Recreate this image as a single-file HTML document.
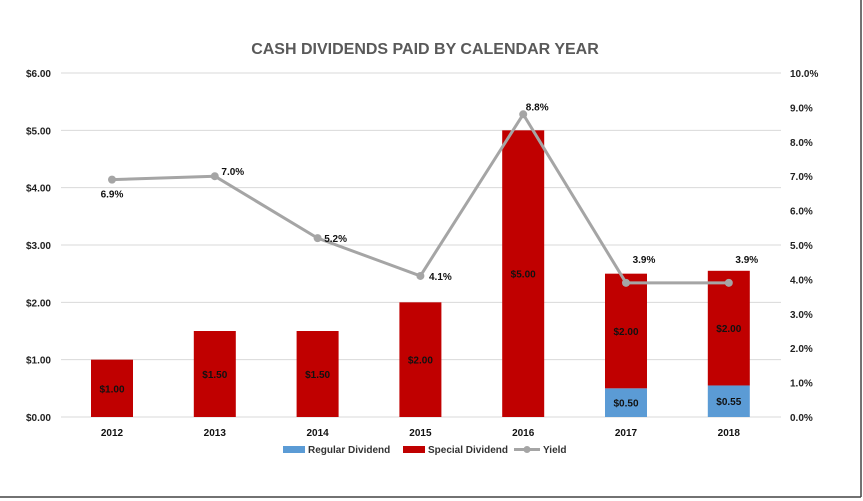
<!DOCTYPE html>
<html><head><meta charset="utf-8"><style>
body{margin:0;background:#fff;}
svg{display:block;font-family:"Liberation Sans",sans-serif;font-weight:bold;}
</style></head><body>
<svg id="c" width="863" height="501">
<line x1="861" y1="0" x2="861" y2="497" stroke="#444" stroke-width="1.5"/>
<line x1="0" y1="497" x2="861" y2="497" stroke="#444" stroke-width="1.5"/>
<text x="425" y="54" text-anchor="middle" font-size="16" fill="#595959">CASH DIVIDENDS PAID BY CALENDAR YEAR</text>
<g id="grid"></g><g id="bars"></g><g id="line"></g><g id="labels"></g>
<g font-size="10" fill="#333">
<rect x="283" y="446" width="22" height="7" fill="#5b9bd5"/>
<text x="308" y="453">Regular Dividend</text>
<rect x="403" y="446" width="22" height="7" fill="#c00000"/>
<text x="428" y="453">Special Dividend</text>
<line x1="514" y1="449.5" x2="540" y2="449.5" stroke="#a5a5a5" stroke-width="3"/>
<circle cx="527" cy="449.5" r="3.5" fill="#a5a5a5"/>
<text x="543" y="453">Yield</text>
</g>
</svg>
<script>
const years=["2012","2013","2014","2015","2016","2017","2018"];
const regular=[0,0,0,0,0,0.50,0.55];
const special=[1.00,1.50,1.50,2.00,5.00,2.00,2.00];
const yieldPct=[6.9,7.0,5.2,4.1,8.8,3.9,3.9];
const leftTicks=[0,1,2,3,4,5,6];
const rightTicks=[0,1,2,3,4,5,6,7,8,9,10];
const NS="http://www.w3.org/2000/svg";
const y0=417,yTop=73,xL=61,xR=781;
const yL=v=>y0-(v/6)*(y0-yTop);
const yR=v=>y0-(v/10)*(y0-yTop);
const xC=i=>112+i*102.8;
function mk(p,tag,a,t){const e=document.createElementNS(NS,tag);for(const k in a)e.setAttribute(k,a[k]);if(t!==undefined)e.textContent=t;p.appendChild(e);return e;}
const g=document.getElementById('grid'),b=document.getElementById('bars'),l=document.getElementById('line'),lb=document.getElementById('labels');
leftTicks.forEach(v=>{
 const ln=mk(g,'line',{x1:xL,x2:xR,y1:yL(v),y2:yL(v),stroke:'#d9d9d9','stroke-width':1});
 
 
 const t=mk(g,'text',{x:51,y:yL(v)+4,'text-anchor':'end','font-size':10,fill:'#222'},'$'+v.toFixed(2));
 
 
});
rightTicks.forEach(v=>{
 const t=mk(g,'text',{x:790,y:yR(v)+4,'font-size':10,fill:'#222'},v.toFixed(1)+'%');
 
 
});
years.forEach((yr,i)=>{
 const x=xC(i),w=42;
 if(regular[i]>0){
  const r=mk(b,'rect',{x:x-w/2,y:yL(regular[i]),width:w,height:y0-yL(regular[i]),fill:'#5b9bd5'});
  
  
  const t=mk(lb,'text',{x:x,y:(yL(regular[i])+y0)/2+4,'text-anchor':'middle','font-size':10,fill:'#111'},'$'+regular[i].toFixed(2));
  
  
 }
 const top=yL(regular[i]+special[i]),bot=yL(regular[i]);
 const r=mk(b,'rect',{x:x-w/2,y:top,width:w,height:bot-top,fill:'#c00000'});
 
 
 const t=mk(lb,'text',{x:x,y:(top+bot)/2+4,'text-anchor':'middle','font-size':10,fill:'#111'},'$'+special[i].toFixed(2));
 
 
 const xt=mk(lb,'text',{x:x,y:436,'text-anchor':'middle','font-size':10,fill:'#111'},yr);
 
 
});
const pts=yieldPct.map((v,i)=>xC(i)+','+yR(v)).join(' ');
const pl=mk(l,'polyline',{points:pts,fill:'none',stroke:'#a5a5a5','stroke-width':3,'stroke-linejoin':'round'});


const off=[[0,18],[18,-1],[18,4],[20,4],[14,-4],[18,-20],[18,-20]];
yieldPct.forEach((v,i)=>{
 const c=mk(l,'circle',{cx:xC(i),cy:yR(v),r:4,fill:'#a5a5a5'});
 
 
 const t=mk(lb,'text',{x:xC(i)+off[i][0],y:yR(v)+off[i][1],'text-anchor':'middle','font-size':10,fill:'#111'},v.toFixed(1)+'%');
 
 
});
</script>
</body></html>
